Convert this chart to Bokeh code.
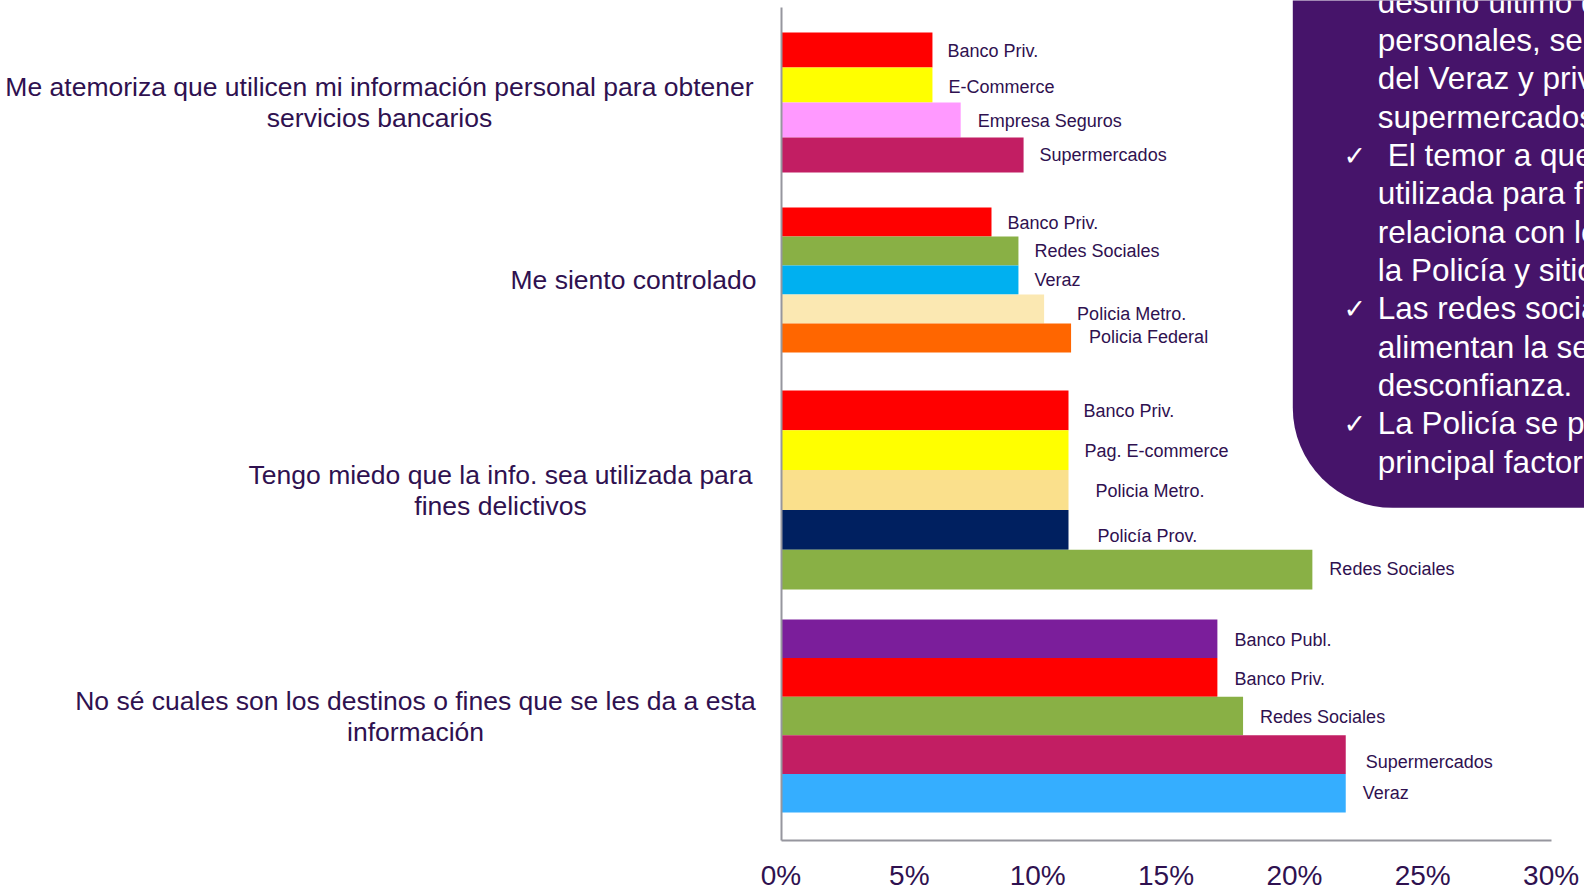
from bokeh.plotting import figure
from bokeh.models import Range1d, LinearAxis, FixedTicker, BoxAnnotation, ColumnDataSource
from bokeh.core.properties import value
from bokeh.embed import file_html
from bokeh.resources import INLINE

# ---------------- data ----------------
questions = [
    ["Me atemoriza que utilicen mi información personal para obtener", "servicios bancarios"],
    ["Me siento controlado"],
    ["Tengo miedo que la info. sea utilizada para", "fines delictivos"],
    ["No sé cuales son los destinos o fines que se les da a esta", "información"],
]

g1_names = ["Banco Priv.", "E-Commerce", "Empresa Seguros", "Supermercados"]
g1_values = [5.9, 5.9, 7.0, 9.45]

g2_names = ["Banco  Priv.", "Redes Sociales", "Veraz", "Policia Metro.", "Policia Federal"]
g2_values = [8.2, 9.25, 9.25, 10.25, 11.3]

g3_names = ["Banco Priv.", "Pag. E-commerce", "Policia Metro.", "Policía Prov.", "Redes Sociales"]
g3_values = [11.2, 11.2, 11.2, 11.2, 20.7]

g4_names = ["Banco Publ.", "Banco Priv.", "Redes Sociales", "Supermercados", "Veraz"]
g4_values = [17, 17, 18, 22, 22]

tick_values = [0, 5, 10, 15, 20, 25, 30]
tick_labels = ["0%", "5%", "10%", "15%", "20%", "25%", "30%"]

box_lines = [
    "destino último de sus datos",
    "personales, señalan a los bancos",
    "del Veraz y privados, y a los",
    "supermercados.",
    "El temor a que la información sea",
    "utilizada para fines delictivos se",
    "relaciona con los bancos privados,",
    "la Policía y sitios de e-commerce.",
    "Las redes sociales también",
    "alimentan la sensación de",
    "desconfianza.",
    "La Policía se presenta como el",
    "principal factor de control.",
]
box_checked = [4, 8, 11]

# ---------------- styles / layout ----------------
g1_colors = ["#FF0000", "#FFFF00", "#FF99FF", "#C21E63"]
g2_colors = ["#FF0000", "#89B045", "#00B0F0", "#FBE8B2", "#FF6600"]
g3_colors = ["#FF0000", "#FFFF00", "#FAE08C", "#002060", "#89B045"]
g4_colors = ["#7B1E9B", "#FF0000", "#89B045", "#C21E63", "#35AEFF"]

g1_dx = [15, 16, 17, 16]
g2_dx = [16, 16, 16, 33, 18]
g3_dx = [15, 16, 27, 29, 17]
g4_dx = [17, 17, 17, 20, 17]
g1_dy = [1, 1.5, 1, 0]
g2_dy = [1, 0, 0, 5, -1]
g3_dy = [1, 1, 1, 6.5, -1]
g4_dy = [1.5, 2, 1, 7, 0]

group_top = [32, 207, 390, 619]
bar_h = [35, 29, 39.8, 38.6]
q_center_px = [379, 633, 500, 415]
q_line_gap = 31

TXT = "#2F1150"
GRAY = "#96969E"
PURPLE = "#46146A"
FONT = "Liberation Sans"

W, H = 1584, 890
OFF = 0
X0_PX = 780.5      # position of 0% in page coordinates
PX_PER_PCT = 25.67
AXIS_Y = 840

x_start = (OFF - X0_PX) / PX_PER_PCT
x_end = (OFF + W - X0_PX) / PX_PER_PCT

p = figure(width=W, height=H,
           x_range=Range1d(x_start, x_end),
           y_range=Range1d(OFF + H, OFF),
           output_backend="svg", toolbar_location=None,
           x_axis_location=None, y_axis_location=None,
           min_border=0, outline_line_color=None,
           background_fill_color="white", border_fill_color="white")
for g in p.grid:
    g.visible = False

# purple rounded box (annotation)
box = BoxAnnotation(left=(1292.3 - X0_PX) / PX_PER_PCT, right=x_end + 10,
                    top=-300, bottom=507.3,
                    fill_color=PURPLE, fill_alpha=1.0, line_color=None,
                    border_radius=100, level="underlay")
p.add_layout(box)

# bars
groups = [
    (g1_names, g1_values, g1_colors, g1_dx, g1_dy),
    (g2_names, g2_values, g2_colors, g2_dx, g2_dy),
    (g3_names, g3_values, g3_colors, g3_dx, g3_dy),
    (g4_names, g4_values, g4_colors, g4_dx, g4_dy),
]
data = dict(y=[], h=[], v=[], c=[], name=[], dx=[], dy=[])
for gi, (names, vals, cols, dxs, dys) in enumerate(groups):
    for i, (n, v, c, dx, dy) in enumerate(zip(names, vals, cols, dxs, dys)):
        data["y"].append(group_top[gi] + (i + 0.5) * bar_h[gi])
        data["h"].append(bar_h[gi])
        data["v"].append(v)
        data["c"].append(c)
        data["name"].append(n)
        data["dx"].append(dx)
        data["dy"].append(dy)
src = ColumnDataSource(data)

p.hbar(y="y", height="h", left=0, right="v", fill_color="c", line_color=None, source=src)
p.text(x="v", y="y", text="name", x_offset="dx", y_offset="dy", source=src,
       text_font=value(FONT), text_font_size="18px", text_color=TXT,
       text_align="left", text_baseline="middle")

# question labels
qdata = dict(x=[], y=[], t=[], xo=[])
for gi, lines in enumerate(questions):
    n = len(groups[gi][0])
    center = group_top[gi] + n * bar_h[gi] / 2
    for li, line in enumerate(lines):
        qdata["x"].append(0)
        qdata["y"].append(center + (li - (len(lines) - 1) / 2) * q_line_gap)
        qdata["t"].append(line)
        qdata["xo"].append(q_center_px[gi] - X0_PX)
p.text(x="x", y="y", text="t", x_offset="xo", source=ColumnDataSource(qdata),
       text_font=value(FONT), text_font_size="26.5px", text_color=TXT,
       text_align="center", text_baseline="middle")

# box text
bdata = dict(x=[], y=[], t=[], xo=[])
for i, line in enumerate(box_lines):
    bdata["x"].append(0)
    bdata["y"].append(1.1 + i * 38.35)
    bdata["t"].append(line)
    bdata["xo"].append(1377.3 - X0_PX + (10 if i == 4 else 0))
p.text(x="x", y="y", text="t", x_offset="xo", source=ColumnDataSource(bdata),
       text_font=value(FONT), text_font_size="31.5px", text_color="white",
       text_align="left", text_baseline="middle")
cdata = dict(x=[0] * len(box_checked), y=[1.1 + i * 38.35 for i in box_checked])
p.text(x="x", y="y", text=value("✓"), x_offset=1343 - X0_PX, source=ColumnDataSource(cdata),
       text_font=value("DejaVu Sans"), text_font_size="27px", text_color="white",
       text_align="left", text_baseline="middle")

# axes
xaxis = LinearAxis(fixed_location=AXIS_Y, bounds=(0, 30),
                   ticker=FixedTicker(ticks=tick_values),
                   major_label_overrides={t: l for t, l in zip(tick_values, tick_labels)})
xaxis.axis_line_color = GRAY
xaxis.axis_line_width = 2
xaxis.major_tick_line_color = None
xaxis.minor_tick_line_color = None
xaxis.major_label_text_font = FONT
xaxis.major_label_text_font_size = "28px"
xaxis.major_label_text_color = TXT
xaxis.major_label_standoff = 13
p.add_layout(xaxis, "below")

yaxis = LinearAxis(fixed_location=0, bounds=(7, AXIS_Y), ticker=FixedTicker(ticks=[]))
yaxis.axis_line_color = GRAY
yaxis.axis_line_width = 2
yaxis.major_tick_line_color = None
yaxis.minor_tick_line_color = None
yaxis.major_label_text_font_size = "0px"
p.add_layout(yaxis, "left")

open("out.html", "w").write(file_html(p, INLINE))
